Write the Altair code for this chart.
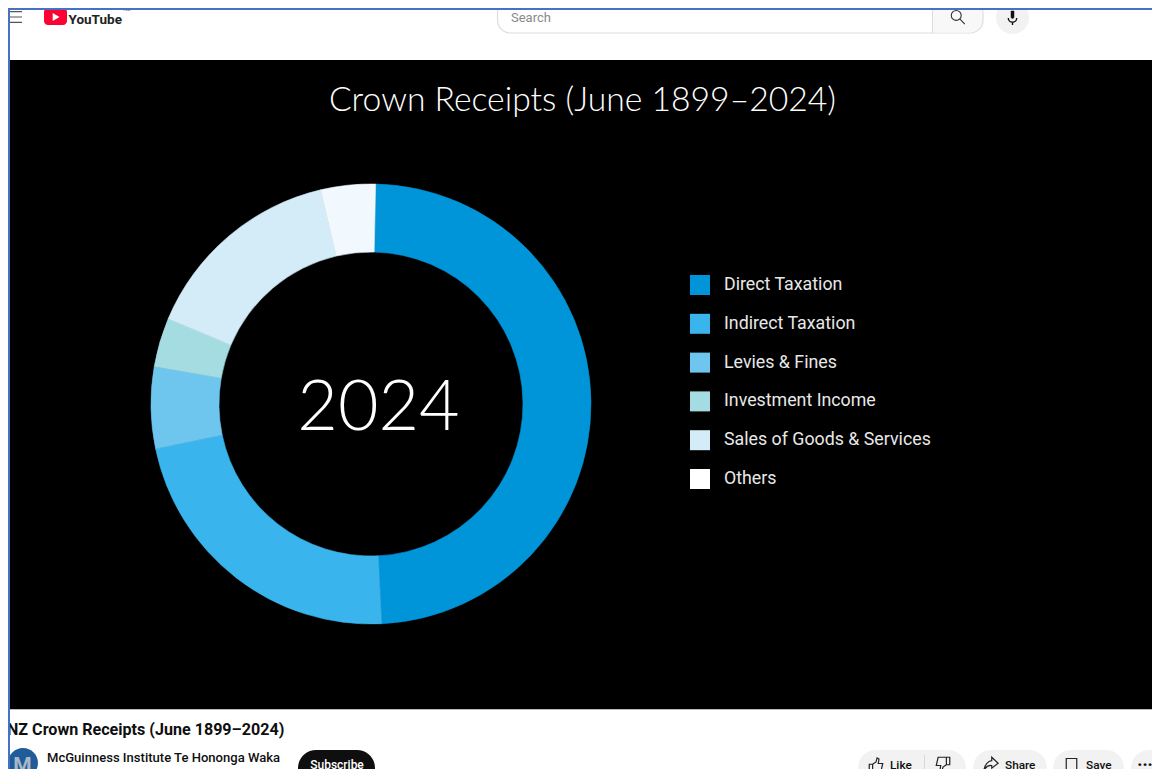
import altair as alt
import math
import pandas as pd

# Crown receipts by source, share of the total (%)
categories = ["Direct Taxation", "Indirect Taxation", "Levies & Fines",
              "Investment Income", "Sales of Goods & Services", "Others"]
shares = [48.9, 22.5, 6.0, 3.6, 15.0, 4.0]
ring_colours = ["#0094D8", "#3AB4EC", "#6EC5EE", "#A5DCE2", "#D3ECF8", "#F1F9FF"]
key_colours = ["#0094D8", "#3AB4EC", "#6EC5EE", "#A5DCE2", "#D3ECF8", "#FFFFFF"]

HEADING = "Crown Receipts (June 1899–2024)"
YEAR = "2024"
VIDEO_TITLE = "NZ Crown Receipts (June 1899–2024)"
CHANNEL = "McGuinness Institute Te Hononga Waka"

# The ring starts a little past twelve o'clock
RING_START = 0.021

one = alt.Data(values=[{}])


def box(x, x2, y, y2, fill, **kw):
    return alt.Chart(one).mark_rect(fill=fill, **kw).encode(
        x=alt.value(x), x2=alt.value(x2), y=alt.value(y), y2=alt.value(y2))


def label(text, x, y, size, colour, font="Roboto", weight=400, align="left", **kw):
    return alt.Chart(one).mark_text(
        text=text, font=font, fontSize=size, fontWeight=weight, color=colour,
        align=align, baseline="alphabetic", **kw
    ).encode(x=alt.value(x), y=alt.value(y))


def glyph(path, x, y, side, stroke="#222222", fill=None, width=1.2):
    opts = dict(shape=path, size=side * side, opacity=1, strokeWidth=width)
    if fill:
        opts.update(filled=True, fill=fill, stroke=stroke)
    else:
        opts.update(filled=False, stroke=stroke)
    return alt.Chart(one).mark_point(**opts).encode(x=alt.value(x), y=alt.value(y))


# Custom symbols on a -1..1 grid
THUMB_UP = "M-0.9,-0.1 L-0.45,-0.1 L-0.45,0.9 L-0.9,0.9 Z M-0.45,-0.1 L0,-0.4 L0.15,-0.95 L0.4,-0.8 L0.3,-0.2 L0.9,-0.2 L0.65,0.9 L-0.45,0.9"
THUMB_DOWN = "M0.9,0.1 L0.45,0.1 L0.45,-0.9 L0.9,-0.9 Z M0.45,0.1 L0,0.4 L-0.15,0.95 L-0.4,0.8 L-0.3,0.2 L-0.9,0.2 L-0.65,-0.9 L0.45,-0.9"
SHARE = "M0.1,-0.9 L0.95,-0.1 L0.1,0.55 L0.1,0.2 C-0.4,0.15 -0.7,0.4 -0.95,0.85 C-0.85,0.1 -0.4,-0.4 0.1,-0.45 Z"
BOOKMARK = "M-0.7,-1 L0.7,-1 L0.7,1 L-0.7,1 Z M-0.2,0.75 L0.2,0.75"
LENS = "M0.4,-0.2 A0.62,0.62 0 1 1 -0.84,-0.2 A0.62,0.62 0 1 1 0.4,-0.2 Z M0.22,0.24 L0.85,0.9"
MIC = "M-0.3,-1 L0.3,-1 L0.3,0.2 A0.3,0.3 0 0 1 -0.3,0.2 Z"
MIC_STAND = "M-0.6,0 A0.6,0.6 0 0 0 0.6,0 M0,0.6 L0,1"
BURGER = "M-1,-0.88 L1,-0.88 M-1,0 L1,0 M-1,0.88 L1,0.88"
PLAY = "M-0.7,-1 L1,0 L-0.7,1 Z"

# Video frame and heading
frame = box(10, 1160, 60, 709, "#000000")
frame_edge = box(10, 1160, 709, 710, "#BBBBBB")
heading = label(HEADING, 582.5, 111, 33.7, "#FFFFFF", font="Lato", weight=300, align="center")

# Ring of receipts
table = pd.DataFrame({"source": categories, "share": shares, "rank": range(len(categories))})
ring_scale = alt.Scale(domain=categories, range=ring_colours)
ring = alt.Chart(table).mark_arc(outerRadius=220, innerRadius=152, strokeWidth=0.6).encode(
    x=alt.value(371),
    y=alt.value(404),
    theta=alt.Theta(
        "share:Q", stack=True,
        scale=alt.Scale(domain=[0, 100], range=[RING_START, RING_START + 2 * math.pi]),
    ),
    order=alt.Order("rank:O"),
    color=alt.Color("source:N", scale=ring_scale, legend=None),
    stroke=alt.Stroke("source:N", scale=ring_scale, legend=None),
)

# Legend carried by an empty arc layer with its own colour scale
key = alt.Chart(table).mark_arc(outerRadius=0, innerRadius=0).encode(
    x=alt.value(371),
    y=alt.value(404),
    theta=alt.Theta("share:Q", stack=True),
    color=alt.Color(
        "source:N",
        scale=alt.Scale(domain=categories, range=key_colours),
        sort=categories,
        legend=alt.Legend(
            title=None, orient="none", legendX=690, legendY=275, padding=0,
            symbolType="square", symbolSize=400, symbolStrokeWidth=0, rowPadding=18.8,
            labelColor="#E8E8E8", labelFont="Roboto", labelFontSize=17.8,
            labelOffset=14, labelLimit=300,
        ),
    ),
)
year = label(YEAR, 378.5, 430, 70, "#FFFFFF", font="Lato", weight=300, align="center")

# Page header
logo = box(44, 67, 8, 25, "#FF0033", cornerRadius=4)
logo_play = glyph(PLAY, 55.5, 17, 8, stroke="#FFFFFF", fill="#FFFFFF", width=0)
brand = label("YouTube", 68.5, 23.5, 13.5, "#222222", weight=700)
region = label("NZ", 123, 11, 6, "#888888")
burger = glyph(BURGER, 16, 17, 12, stroke="#555555", width=1.2)
search = box(497.5, 983, 0, 33, "#FFFFFF", stroke="#DDDDDD", strokeWidth=1.2, cornerRadius=13)
search_btn = box(932, 982, 0, 32.5, "#F8F8F8", cornerRadiusBottomRight=13)
search_div = box(932, 933, 0, 33, "#DDDDDD")
search_text = label("Search", 511, 22, 13, "#8A8A8A")
lens = glyph(LENS, 958, 17, 16, stroke="#333333", width=1.1)
mic_disc = box(996, 1029, 1, 34, "#F2F2F2", cornerRadius=16.5)
mic = glyph(MIC, 1012.5, 16, 10, stroke="#111111", fill="#111111", width=0.5)
mic_stand = glyph(MIC_STAND, 1012.5, 18, 14, stroke="#111111", width=1.4)

# Below the video
video_title = label(VIDEO_TITLE, 7, 735, 16.1, "#0F0F0F", weight=700)
avatar = box(8, 38, 748, 778, "#1F5C99", cornerRadius=15)
avatar_m = label("M", 22.5, 772, 21, "#A9B8C8", weight=700, align="center")
channel = label(CHANNEL, 47, 762, 13.05, "#0F0F0F", weight=500)
subscribe = box(298, 375, 750, 790, "#0F0F0F", cornerRadius=18)
subscribe_text = label("Subscribe", 337, 769, 12, "#FFFFFF", weight=500, align="center")

like_pill = box(858, 966, 750, 790, "#F2F2F2", cornerRadius=18)
like_div = box(924, 925, 755, 785, "#D8D8D8")
thumb_up = glyph(THUMB_UP, 876, 765, 15)
like_text = label("Like", 890, 769, 11.8, "#0F0F0F", weight=500)
thumb_down = glyph(THUMB_DOWN, 943, 764, 15)
share_pill = box(973, 1047, 750, 790, "#F2F2F2", cornerRadius=18)
share_icon = glyph(SHARE, 991, 764, 15)
share_text = label("Share", 1005, 769, 11.8, "#0F0F0F", weight=500)
save_pill = box(1053, 1124, 750, 790, "#F2F2F2", cornerRadius=18)
save_icon = glyph(BOOKMARK, 1071.5, 766, 15)
save_text = label("Save", 1086, 769, 11.8, "#0F0F0F", weight=500)
more_pill = box(1131, 1175, 750, 790, "#F2F2F2", cornerRadius=18)
more_text = label("···", 1145, 770, 16, "#0F0F0F", weight=900, align="center")

# Selection outline drawn around the capture
top_mask = box(0, 1152, 0, 8, "#FFFFFF")
left_mask = box(0, 8, 0, 769, "#FFFFFF")
outline_top = box(8, 1152, 8, 10, "#4472C4")
outline_left = box(8, 10, 8, 769, "#4472C4")

chart = alt.layer(
    frame, frame_edge, heading, ring, key, year,
    search, search_btn, search_div, search_text, lens, mic_disc, mic, mic_stand,
    logo, logo_play, brand, region, burger,
    video_title, avatar, avatar_m, channel, subscribe, subscribe_text,
    like_pill, like_div, thumb_up, like_text, thumb_down,
    share_pill, share_icon, share_text, save_pill, save_icon, save_text,
    more_pill, more_text,
    top_mask, left_mask, outline_top, outline_left,
).resolve_scale(
    color="independent", theta="independent",
).properties(
    width=1152, height=769, padding=0, background="#FFFFFF",
    autosize=alt.AutoSizeParams(type="none"),
).configure_view(stroke=None)

chart.save("out.html", embed_options={"renderer": "svg", "actions": False})
